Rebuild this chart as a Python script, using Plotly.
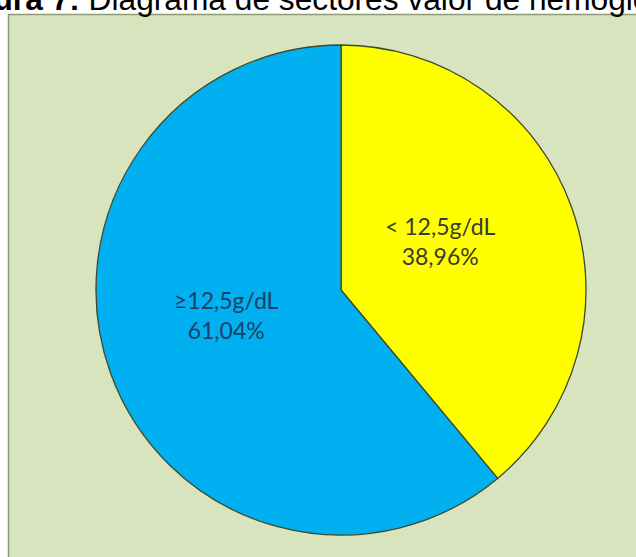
import plotly.graph_objects as go

labels = ["< 12,5g/dL", "≥12,5g/dL"]
values = [38.96, 61.04]
colors = ["#FFFF00", "#00B0F0"]
text_colors = ["#3a3a2a", "#1d3f66"]
title_bold = "Figura 7:"
title_rest = "Diagrama de sectores valor de hemoglobina"

W, H = 636, 557

fig = go.Figure()
fig.add_trace(go.Pie(
    labels=labels,
    values=values,
    sort=False,
    direction="clockwise",
    rotation=0,
    marker=dict(colors=colors, line=dict(color="#3d4a2e", width=1.3)),
    textinfo="none",
    showlegend=False,
    hoverinfo="none",
    domain=dict(x=[(341 - 245) / W, (341 + 245) / W], y=[22 / H, 512 / H]),
))

# slice labels (positions in pixels from top-left)
label_pos = [(440, 241), (227, 315)]
for lab, val, col, (px, py) in zip(labels, values, text_colors, label_pos):
    fig.add_annotation(
        xref="paper", yref="paper", x=px / W, y=1 - py / H,
        xanchor="center", yanchor="middle", showarrow=False,
        text=f"{lab}<br>{val:.2f}".replace(".", ",") + "%",
        font=dict(family="Lato, Open Sans, sans-serif", size=23, color=col),
    )

fig.add_shape(type="rect", xref="paper", yref="paper",
              x0=8.5 / W, x1=1.05, y0=-0.05, y1=(H - 14.5) / H,
              fillcolor="#D7E4BD", line=dict(color="#8d9c74", width=1.5), layer="below")

fig.add_annotation(xref="paper", yref="paper", x=0, y=1, xanchor="left", yanchor="bottom",
                   xshift=-56, yshift=-19, showarrow=False,
                   text=f"<b>{title_bold}</b> {title_rest}",
                   font=dict(family="Arial, Liberation Sans, sans-serif", size=31.7, color="#000000"))

fig.update_layout(
    width=W, height=H,
    margin=dict(l=0, r=0, t=0, b=0),
    paper_bgcolor="#FFFFFF",
    plot_bgcolor="#FFFFFF",
    separators=",.",
)

fig.write_html("out.html", config={"displayModeBar": False},
               post_script="document.body.style.margin='0';")
